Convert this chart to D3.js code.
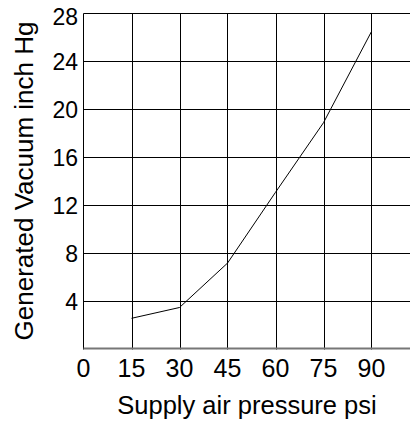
<!DOCTYPE html>
<html>
<head>
<meta charset="utf-8">
<script src="https://cdn.jsdelivr.net/npm/d3@7"></script>
<style>
  body { margin: 0; background: #fff; }
  text { font-family: "Liberation Sans", Arial, sans-serif; fill: #000; }
</style>
</head>
<body>
<div id="chart"></div>
<script>
let pressure = [15, 30, 45, 60, 75, 90]
let vacuum = [2.6, 3.5, 7.2, 13.1, 18.9, 26.5]
let xTicks = [0, 15, 30, 45, 60, 75, 90]
let yTicks = [4, 8, 12, 16, 20, 24, 28]

let width = 410
let height = 421

let svg = d3.select("#chart")
  .append("svg")
  .attr("width", width)
  .attr("height", height)

let x = d3.scaleLinear().domain([0, 102]).range([83.5, 409.9])
let y = d3.scaleLinear().domain([0, 28]).range([349.5, 13.5])

// grid
svg.selectAll(".vgrid")
  .data(xTicks.filter(d => d > 0))
  .enter().append("line")
  .attr("x1", d => Math.round(x(d)) + 0.5)
  .attr("x2", d => Math.round(x(d)) + 0.5)
  .attr("y1", y(28))
  .attr("y2", y(0))
  .attr("stroke", "#000")
  .attr("stroke-width", 1)

svg.selectAll(".hgrid")
  .data(yTicks)
  .enter().append("line")
  .attr("x1", x(0))
  .attr("x2", width)
  .attr("y1", d => y(d))
  .attr("y2", d => y(d))
  .attr("stroke", "#000")
  .attr("stroke-width", 1)

// axes lines
svg.append("line")
  .attr("x1", x(0)).attr("x2", x(0))
  .attr("y1", y(28)).attr("y2", y(0))
  .attr("stroke", "#000")

svg.append("line")
  .attr("x1", x(0)).attr("x2", width)
  .attr("y1", y(0) - 1).attr("y2", y(0) - 1)
  .attr("stroke", "#777")
  .attr("stroke-width", 2)

// tick labels
svg.selectAll(".xlab")
  .data(xTicks)
  .enter().append("text")
  .attr("x", d => x(d))
  .attr("y", 377)
  .attr("text-anchor", "middle")
  .attr("font-size", 25)
  .text(d => d)

svg.selectAll(".ylab")
  .data(yTicks)
  .enter().append("text")
  .attr("x", 78)
  .attr("y", d => Math.max(y(d), 17))
  .attr("dy", "0.35em")
  .attr("text-anchor", "end")
  .attr("font-size", 23)
  .text(d => d)

// titles
svg.append("text")
  .attr("x", 247)
  .attr("y", 414)
  .attr("text-anchor", "middle")
  .attr("font-size", 25.5)
  .text("Supply air pressure psi")

svg.append("text")
  .attr("transform", "translate(33," + 181 + ") rotate(-90)")
  .attr("text-anchor", "middle")
  .attr("font-size", 26)
  .text("Generated Vacuum inch Hg")

// curve
let line = d3.line()
  .x((d, i) => x(pressure[i]))
  .y(d => y(d))

svg.append("path")
  .datum(vacuum)
  .attr("d", line)
  .attr("fill", "none")
  .attr("stroke", "#000")
  .attr("stroke-width", 1)
</script>
</body>
</html>
